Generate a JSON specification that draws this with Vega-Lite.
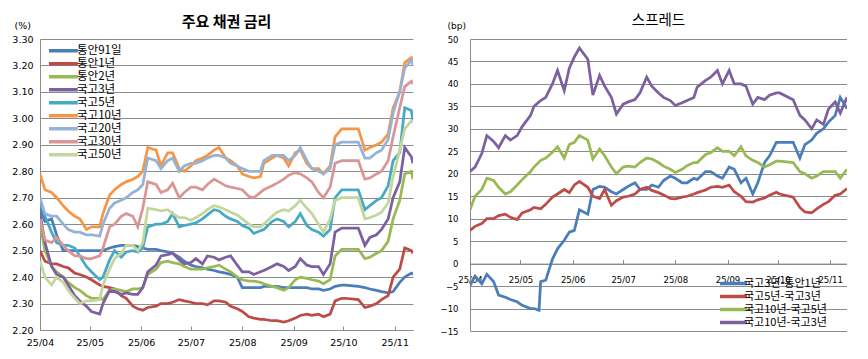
{
"$schema":"https://vega.github.io/schema/vega-lite/v6.json",
"background":"white",
"padding":{"left":11,"top":13,"right":0,"bottom":0},
"config":{
"view":{"stroke":null},
"font":"Noto Sans CJK KR",
"axis":{"labelFont":"DejaVu Sans","labelColor":"#000000","titleFont":"DejaVu Sans","titleColor":"#000000","gridColor":"#8c8c8c","gridWidth":1,"domainColor":"#8c8c8c","tickColor":"#8c8c8c","labelFlush":false,"labelOverlap":false},
"legend":{"labelFont":"Noto Sans CJK KR","labelColor":"#000000"},
"title":{"color":"#000000","font":"Noto Sans CJK KR"}
},
"resolve":{"scale":{"color":"independent"},"legend":{"color":"independent"}},
"datasets":{
"rates":[
{"d":"2025-04-01","s":"통안91일","v":2.66},{"d":"2025-04-04","s":"통안91일","v":2.61},{"d":"2025-04-08","s":"통안91일","v":2.62},{"d":"2025-04-11","s":"통안91일","v":2.56},{"d":"2025-04-15","s":"통안91일","v":2.50},{"d":"2025-04-18","s":"통안91일","v":2.50},{"d":"2025-04-22","s":"통안91일","v":2.50},{"d":"2025-04-25","s":"통안91일","v":2.50},{"d":"2025-04-29","s":"통안91일","v":2.50},{"d":"2025-05-02","s":"통안91일","v":2.50},{"d":"2025-05-07","s":"통안91일","v":2.50},{"d":"2025-05-09","s":"통안91일","v":2.50},{"d":"2025-05-13","s":"통안91일","v":2.51},{"d":"2025-05-16","s":"통안91일","v":2.515},{"d":"2025-05-20","s":"통안91일","v":2.52},{"d":"2025-05-23","s":"통안91일","v":2.52},{"d":"2025-05-27","s":"통안91일","v":2.52},{"d":"2025-05-30","s":"통안91일","v":2.515},{"d":"2025-06-02","s":"통안91일","v":2.51},{"d":"2025-06-05","s":"통안91일","v":2.505},{"d":"2025-06-10","s":"통안91일","v":2.505},{"d":"2025-06-13","s":"통안91일","v":2.50},{"d":"2025-06-17","s":"통안91일","v":2.495},{"d":"2025-06-20","s":"통안91일","v":2.49},{"d":"2025-06-24","s":"통안91일","v":2.475},{"d":"2025-06-27","s":"통안91일","v":2.46},{"d":"2025-07-01","s":"통안91일","v":2.445},{"d":"2025-07-04","s":"통안91일","v":2.44},{"d":"2025-07-08","s":"통안91일","v":2.435},{"d":"2025-07-11","s":"통안91일","v":2.43},{"d":"2025-07-15","s":"통안91일","v":2.425},{"d":"2025-07-18","s":"통안91일","v":2.42},{"d":"2025-07-22","s":"통안91일","v":2.415},{"d":"2025-07-25","s":"통안91일","v":2.41},{"d":"2025-07-29","s":"통안91일","v":2.40},{"d":"2025-08-01","s":"통안91일","v":2.36},{"d":"2025-08-05","s":"통안91일","v":2.36},{"d":"2025-08-08","s":"통안91일","v":2.36},{"d":"2025-08-12","s":"통안91일","v":2.36},{"d":"2025-08-14","s":"통안91일","v":2.365},{"d":"2025-08-19","s":"통안91일","v":2.365},{"d":"2025-08-22","s":"통안91일","v":2.365},{"d":"2025-08-26","s":"통안91일","v":2.36},{"d":"2025-08-29","s":"통안91일","v":2.36},{"d":"2025-09-02","s":"통안91일","v":2.36},{"d":"2025-09-05","s":"통안91일","v":2.36},{"d":"2025-09-09","s":"통안91일","v":2.36},{"d":"2025-09-12","s":"통안91일","v":2.355},{"d":"2025-09-16","s":"통안91일","v":2.355},{"d":"2025-09-19","s":"통안91일","v":2.35},{"d":"2025-09-23","s":"통안91일","v":2.355},{"d":"2025-09-26","s":"통안91일","v":2.365},{"d":"2025-09-30","s":"통안91일","v":2.37},{"d":"2025-10-02","s":"통안91일","v":2.37},{"d":"2025-10-10","s":"통안91일","v":2.365},{"d":"2025-10-14","s":"통안91일","v":2.36},{"d":"2025-10-17","s":"통안91일","v":2.355},{"d":"2025-10-21","s":"통안91일","v":2.35},{"d":"2025-10-24","s":"통안91일","v":2.345},{"d":"2025-10-28","s":"통안91일","v":2.34},{"d":"2025-10-31","s":"통안91일","v":2.345},{"d":"2025-11-04","s":"통안91일","v":2.38},{"d":"2025-11-07","s":"통안91일","v":2.40},{"d":"2025-11-11","s":"통안91일","v":2.415},{"d":"2025-11-12","s":"통안91일","v":2.41},
{"d":"2025-04-01","s":"통안1년","v":2.50},{"d":"2025-04-04","s":"통안1년","v":2.46},{"d":"2025-04-08","s":"통안1년","v":2.45},{"d":"2025-04-11","s":"통안1년","v":2.45},{"d":"2025-04-15","s":"통안1년","v":2.44},{"d":"2025-04-18","s":"통안1년","v":2.435},{"d":"2025-04-22","s":"통안1년","v":2.415},{"d":"2025-04-25","s":"통안1년","v":2.41},{"d":"2025-04-29","s":"통안1년","v":2.40},{"d":"2025-05-02","s":"통안1년","v":2.39},{"d":"2025-05-07","s":"통안1년","v":2.37},{"d":"2025-05-09","s":"통안1년","v":2.365},{"d":"2025-05-13","s":"통안1년","v":2.36},{"d":"2025-05-16","s":"통안1년","v":2.355},{"d":"2025-05-20","s":"통안1년","v":2.33},{"d":"2025-05-23","s":"통안1년","v":2.32},{"d":"2025-05-27","s":"통안1년","v":2.29},{"d":"2025-05-30","s":"통안1년","v":2.28},{"d":"2025-06-02","s":"통안1년","v":2.275},{"d":"2025-06-05","s":"통안1년","v":2.285},{"d":"2025-06-10","s":"통안1년","v":2.29},{"d":"2025-06-13","s":"통안1년","v":2.30},{"d":"2025-06-17","s":"통안1년","v":2.30},{"d":"2025-06-20","s":"통안1년","v":2.305},{"d":"2025-06-24","s":"통안1년","v":2.315},{"d":"2025-06-27","s":"통안1년","v":2.31},{"d":"2025-07-01","s":"통안1년","v":2.305},{"d":"2025-07-04","s":"통안1년","v":2.30},{"d":"2025-07-08","s":"통안1년","v":2.30},{"d":"2025-07-11","s":"통안1년","v":2.295},{"d":"2025-07-15","s":"통안1년","v":2.31},{"d":"2025-07-18","s":"통안1년","v":2.31},{"d":"2025-07-22","s":"통안1년","v":2.305},{"d":"2025-07-25","s":"통안1년","v":2.29},{"d":"2025-07-29","s":"통안1년","v":2.28},{"d":"2025-08-01","s":"통안1년","v":2.27},{"d":"2025-08-05","s":"통안1년","v":2.25},{"d":"2025-08-08","s":"통안1년","v":2.245},{"d":"2025-08-12","s":"통안1년","v":2.24},{"d":"2025-08-14","s":"통안1년","v":2.24},{"d":"2025-08-19","s":"통안1년","v":2.235},{"d":"2025-08-22","s":"통안1년","v":2.235},{"d":"2025-08-26","s":"통안1년","v":2.23},{"d":"2025-08-29","s":"통안1년","v":2.235},{"d":"2025-09-02","s":"통안1년","v":2.245},{"d":"2025-09-05","s":"통안1년","v":2.255},{"d":"2025-09-09","s":"통안1년","v":2.26},{"d":"2025-09-12","s":"통안1년","v":2.255},{"d":"2025-09-16","s":"통안1년","v":2.26},{"d":"2025-09-19","s":"통안1년","v":2.25},{"d":"2025-09-23","s":"통안1년","v":2.26},{"d":"2025-09-26","s":"통안1년","v":2.31},{"d":"2025-09-30","s":"통안1년","v":2.32},{"d":"2025-10-02","s":"통안1년","v":2.32},{"d":"2025-10-10","s":"통안1년","v":2.315},{"d":"2025-10-14","s":"통안1년","v":2.285},{"d":"2025-10-17","s":"통안1년","v":2.29},{"d":"2025-10-21","s":"통안1년","v":2.30},{"d":"2025-10-24","s":"통안1년","v":2.315},{"d":"2025-10-28","s":"통안1년","v":2.33},{"d":"2025-10-31","s":"통안1년","v":2.40},{"d":"2025-11-04","s":"통안1년","v":2.43},{"d":"2025-11-07","s":"통안1년","v":2.51},{"d":"2025-11-11","s":"통안1년","v":2.50},{"d":"2025-11-12","s":"통안1년","v":2.49},
{"d":"2025-04-01","s":"통안2년","v":2.60},{"d":"2025-04-04","s":"통안2년","v":2.50},{"d":"2025-04-08","s":"통안2년","v":2.44},{"d":"2025-04-11","s":"통안2년","v":2.42},{"d":"2025-04-15","s":"통안2년","v":2.40},{"d":"2025-04-18","s":"통안2년","v":2.38},{"d":"2025-04-22","s":"통안2년","v":2.36},{"d":"2025-04-25","s":"통안2년","v":2.35},{"d":"2025-04-29","s":"통안2년","v":2.33},{"d":"2025-05-02","s":"통안2년","v":2.32},{"d":"2025-05-07","s":"통안2년","v":2.32},{"d":"2025-05-09","s":"통안2년","v":2.315},{"d":"2025-05-13","s":"통안2년","v":2.35},{"d":"2025-05-16","s":"통안2년","v":2.355},{"d":"2025-05-20","s":"통안2년","v":2.35},{"d":"2025-05-23","s":"통안2년","v":2.345},{"d":"2025-05-27","s":"통안2년","v":2.355},{"d":"2025-05-30","s":"통안2년","v":2.355},{"d":"2025-06-02","s":"통안2년","v":2.36},{"d":"2025-06-05","s":"통안2년","v":2.41},{"d":"2025-06-10","s":"통안2년","v":2.43},{"d":"2025-06-13","s":"통안2년","v":2.455},{"d":"2025-06-17","s":"통안2년","v":2.46},{"d":"2025-06-20","s":"통안2년","v":2.455},{"d":"2025-06-24","s":"통안2년","v":2.45},{"d":"2025-06-27","s":"통안2년","v":2.44},{"d":"2025-07-01","s":"통안2년","v":2.43},{"d":"2025-07-04","s":"통안2년","v":2.43},{"d":"2025-07-08","s":"통안2년","v":2.43},{"d":"2025-07-11","s":"통안2년","v":2.435},{"d":"2025-07-15","s":"통안2년","v":2.44},{"d":"2025-07-18","s":"통안2년","v":2.445},{"d":"2025-07-22","s":"통안2년","v":2.43},{"d":"2025-07-25","s":"통안2년","v":2.42},{"d":"2025-07-29","s":"통안2년","v":2.40},{"d":"2025-08-01","s":"통안2년","v":2.39},{"d":"2025-08-05","s":"통안2년","v":2.385},{"d":"2025-08-08","s":"통안2년","v":2.385},{"d":"2025-08-12","s":"통안2년","v":2.38},{"d":"2025-08-14","s":"통안2년","v":2.375},{"d":"2025-08-19","s":"통안2년","v":2.365},{"d":"2025-08-22","s":"통안2년","v":2.36},{"d":"2025-08-26","s":"통안2년","v":2.35},{"d":"2025-08-29","s":"통안2년","v":2.36},{"d":"2025-09-02","s":"통안2년","v":2.39},{"d":"2025-09-05","s":"통안2년","v":2.40},{"d":"2025-09-09","s":"통안2년","v":2.395},{"d":"2025-09-12","s":"통안2년","v":2.39},{"d":"2025-09-16","s":"통안2년","v":2.385},{"d":"2025-09-19","s":"통안2년","v":2.375},{"d":"2025-09-23","s":"통안2년","v":2.39},{"d":"2025-09-26","s":"통안2년","v":2.48},{"d":"2025-09-30","s":"통안2년","v":2.505},{"d":"2025-10-02","s":"통안2년","v":2.505},{"d":"2025-10-10","s":"통안2년","v":2.505},{"d":"2025-10-14","s":"통안2년","v":2.47},{"d":"2025-10-17","s":"통안2년","v":2.475},{"d":"2025-10-21","s":"통안2년","v":2.49},{"d":"2025-10-24","s":"통안2년","v":2.50},{"d":"2025-10-28","s":"통안2년","v":2.535},{"d":"2025-10-31","s":"통안2년","v":2.62},{"d":"2025-11-04","s":"통안2년","v":2.69},{"d":"2025-11-07","s":"통안2년","v":2.79},{"d":"2025-11-11","s":"통안2년","v":2.80},{"d":"2025-11-12","s":"통안2년","v":2.77},
{"d":"2025-04-01","s":"국고3년","v":2.64},{"d":"2025-04-04","s":"국고3년","v":2.53},{"d":"2025-04-08","s":"국고3년","v":2.44},{"d":"2025-04-11","s":"국고3년","v":2.41},{"d":"2025-04-15","s":"국고3년","v":2.40},{"d":"2025-04-18","s":"국고3년","v":2.37},{"d":"2025-04-22","s":"국고3년","v":2.33},{"d":"2025-04-25","s":"국고3년","v":2.31},{"d":"2025-04-29","s":"국고3년","v":2.29},{"d":"2025-05-02","s":"국고3년","v":2.27},{"d":"2025-05-07","s":"국고3년","v":2.26},{"d":"2025-05-09","s":"국고3년","v":2.30},{"d":"2025-05-13","s":"국고3년","v":2.35},{"d":"2025-05-16","s":"국고3년","v":2.345},{"d":"2025-05-20","s":"국고3년","v":2.335},{"d":"2025-05-23","s":"국고3년","v":2.34},{"d":"2025-05-27","s":"국고3년","v":2.335},{"d":"2025-05-30","s":"국고3년","v":2.335},{"d":"2025-06-02","s":"국고3년","v":2.36},{"d":"2025-06-05","s":"국고3년","v":2.42},{"d":"2025-06-10","s":"국고3년","v":2.445},{"d":"2025-06-13","s":"국고3년","v":2.48},{"d":"2025-06-17","s":"국고3년","v":2.485},{"d":"2025-06-20","s":"국고3년","v":2.49},{"d":"2025-06-24","s":"국고3년","v":2.465},{"d":"2025-06-27","s":"국고3년","v":2.45},{"d":"2025-07-01","s":"국고3년","v":2.455},{"d":"2025-07-04","s":"국고3년","v":2.47},{"d":"2025-07-08","s":"국고3년","v":2.45},{"d":"2025-07-11","s":"국고3년","v":2.48},{"d":"2025-07-15","s":"국고3년","v":2.475},{"d":"2025-07-18","s":"국고3년","v":2.465},{"d":"2025-07-22","s":"국고3년","v":2.475},{"d":"2025-07-25","s":"국고3년","v":2.48},{"d":"2025-07-29","s":"국고3년","v":2.445},{"d":"2025-08-01","s":"국고3년","v":2.42},{"d":"2025-08-05","s":"국고3년","v":2.42},{"d":"2025-08-08","s":"국고3년","v":2.41},{"d":"2025-08-12","s":"국고3년","v":2.42},{"d":"2025-08-14","s":"국고3년","v":2.425},{"d":"2025-08-19","s":"국고3년","v":2.44},{"d":"2025-08-22","s":"국고3년","v":2.45},{"d":"2025-08-26","s":"국고3년","v":2.44},{"d":"2025-08-29","s":"국고3년","v":2.425},{"d":"2025-09-02","s":"국고3년","v":2.44},{"d":"2025-09-05","s":"국고3년","v":2.47},{"d":"2025-09-09","s":"국고3년","v":2.445},{"d":"2025-09-12","s":"국고3년","v":2.44},{"d":"2025-09-16","s":"국고3년","v":2.44},{"d":"2025-09-19","s":"국고3년","v":2.41},{"d":"2025-09-23","s":"국고3년","v":2.45},{"d":"2025-09-26","s":"국고3년","v":2.57},{"d":"2025-09-30","s":"국고3년","v":2.585},{"d":"2025-10-02","s":"국고3년","v":2.585},{"d":"2025-10-10","s":"국고3년","v":2.585},{"d":"2025-10-14","s":"국고3년","v":2.52},{"d":"2025-10-17","s":"국고3년","v":2.55},{"d":"2025-10-21","s":"국고3년","v":2.56},{"d":"2025-10-24","s":"국고3년","v":2.58},{"d":"2025-10-28","s":"국고3년","v":2.62},{"d":"2025-10-31","s":"국고3년","v":2.70},{"d":"2025-11-04","s":"국고3년","v":2.76},{"d":"2025-11-07","s":"국고3년","v":2.89},{"d":"2025-11-11","s":"국고3년","v":2.855},{"d":"2025-11-12","s":"국고3년","v":2.83},
{"d":"2025-04-01","s":"국고5년","v":2.69},{"d":"2025-04-04","s":"국고5년","v":2.63},{"d":"2025-04-08","s":"국고5년","v":2.57},{"d":"2025-04-11","s":"국고5년","v":2.53},{"d":"2025-04-15","s":"국고5년","v":2.52},{"d":"2025-04-18","s":"국고5년","v":2.52},{"d":"2025-04-22","s":"국고5년","v":2.51},{"d":"2025-04-25","s":"국고5년","v":2.48},{"d":"2025-04-29","s":"국고5년","v":2.44},{"d":"2025-05-02","s":"국고5년","v":2.42},{"d":"2025-05-07","s":"국고5년","v":2.39},{"d":"2025-05-09","s":"국고5년","v":2.40},{"d":"2025-05-13","s":"국고5년","v":2.465},{"d":"2025-05-16","s":"국고5년","v":2.50},{"d":"2025-05-20","s":"국고5년","v":2.475},{"d":"2025-05-23","s":"국고5년","v":2.495},{"d":"2025-05-27","s":"국고5년","v":2.50},{"d":"2025-05-30","s":"국고5년","v":2.495},{"d":"2025-06-02","s":"국고5년","v":2.51},{"d":"2025-06-05","s":"국고5년","v":2.59},{"d":"2025-06-10","s":"국고5년","v":2.60},{"d":"2025-06-13","s":"국고5년","v":2.60},{"d":"2025-06-17","s":"국고5년","v":2.61},{"d":"2025-06-20","s":"국고5년","v":2.64},{"d":"2025-06-24","s":"국고5년","v":2.59},{"d":"2025-06-27","s":"국고5년","v":2.595},{"d":"2025-07-01","s":"국고5년","v":2.60},{"d":"2025-07-04","s":"국고5년","v":2.605},{"d":"2025-07-08","s":"국고5년","v":2.62},{"d":"2025-07-11","s":"국고5년","v":2.635},{"d":"2025-07-15","s":"국고5년","v":2.655},{"d":"2025-07-18","s":"국고5년","v":2.65},{"d":"2025-07-22","s":"국고5년","v":2.63},{"d":"2025-07-25","s":"국고5년","v":2.62},{"d":"2025-07-29","s":"국고5년","v":2.61},{"d":"2025-08-01","s":"국고5년","v":2.595},{"d":"2025-08-05","s":"국고5년","v":2.585},{"d":"2025-08-08","s":"국고5년","v":2.565},{"d":"2025-08-12","s":"국고5년","v":2.575},{"d":"2025-08-14","s":"국고5년","v":2.58},{"d":"2025-08-19","s":"국고5년","v":2.61},{"d":"2025-08-22","s":"국고5년","v":2.62},{"d":"2025-08-26","s":"국고5년","v":2.61},{"d":"2025-08-29","s":"국고5년","v":2.59},{"d":"2025-09-02","s":"국고5년","v":2.61},{"d":"2025-09-05","s":"국고5년","v":2.64},{"d":"2025-09-09","s":"국고5년","v":2.595},{"d":"2025-09-12","s":"국고5년","v":2.58},{"d":"2025-09-16","s":"국고5년","v":2.57},{"d":"2025-09-19","s":"국고5년","v":2.555},{"d":"2025-09-23","s":"국고5년","v":2.58},{"d":"2025-09-26","s":"국고5년","v":2.70},{"d":"2025-09-30","s":"국고5년","v":2.73},{"d":"2025-10-02","s":"국고5년","v":2.73},{"d":"2025-10-10","s":"국고5년","v":2.73},{"d":"2025-10-14","s":"국고5년","v":2.655},{"d":"2025-10-17","s":"국고5년","v":2.67},{"d":"2025-10-21","s":"국고5년","v":2.69},{"d":"2025-10-24","s":"국고5년","v":2.70},{"d":"2025-10-28","s":"국고5년","v":2.745},{"d":"2025-10-31","s":"국고5년","v":2.84},{"d":"2025-11-04","s":"국고5년","v":2.87},{"d":"2025-11-07","s":"국고5년","v":3.04},{"d":"2025-11-11","s":"국고5년","v":3.03},{"d":"2025-11-12","s":"국고5년","v":2.99},
{"d":"2025-04-01","s":"국고10년","v":2.79},{"d":"2025-04-04","s":"국고10년","v":2.73},{"d":"2025-04-08","s":"국고10년","v":2.72},{"d":"2025-04-11","s":"국고10년","v":2.70},{"d":"2025-04-15","s":"국고10년","v":2.67},{"d":"2025-04-18","s":"국고10년","v":2.65},{"d":"2025-04-22","s":"국고10년","v":2.63},{"d":"2025-04-25","s":"국고10년","v":2.62},{"d":"2025-04-29","s":"국고10년","v":2.58},{"d":"2025-05-02","s":"국고10년","v":2.59},{"d":"2025-05-07","s":"국고10년","v":2.59},{"d":"2025-05-09","s":"국고10년","v":2.64},{"d":"2025-05-13","s":"국고10년","v":2.71},{"d":"2025-05-16","s":"국고10년","v":2.73},{"d":"2025-05-20","s":"국고10년","v":2.75},{"d":"2025-05-23","s":"국고10년","v":2.76},{"d":"2025-05-27","s":"국고10년","v":2.77},{"d":"2025-05-30","s":"국고10년","v":2.78},{"d":"2025-06-02","s":"국고10년","v":2.80},{"d":"2025-06-05","s":"국고10년","v":2.89},{"d":"2025-06-10","s":"국고10년","v":2.88},{"d":"2025-06-13","s":"국고10년","v":2.82},{"d":"2025-06-17","s":"국고10년","v":2.87},{"d":"2025-06-20","s":"국고10년","v":2.87},{"d":"2025-06-24","s":"국고10년","v":2.81},{"d":"2025-06-27","s":"국고10년","v":2.80},{"d":"2025-07-01","s":"국고10년","v":2.82},{"d":"2025-07-04","s":"국고10년","v":2.84},{"d":"2025-07-08","s":"국고10년","v":2.85},{"d":"2025-07-11","s":"국고10년","v":2.86},{"d":"2025-07-15","s":"국고10년","v":2.88},{"d":"2025-07-18","s":"국고10년","v":2.89},{"d":"2025-07-22","s":"국고10년","v":2.85},{"d":"2025-07-25","s":"국고10년","v":2.84},{"d":"2025-07-29","s":"국고10년","v":2.82},{"d":"2025-08-01","s":"국고10년","v":2.79},{"d":"2025-08-05","s":"국고10년","v":2.78},{"d":"2025-08-08","s":"국고10년","v":2.775},{"d":"2025-08-12","s":"국고10년","v":2.78},{"d":"2025-08-14","s":"국고10년","v":2.83},{"d":"2025-08-19","s":"국고10년","v":2.85},{"d":"2025-08-22","s":"국고10년","v":2.86},{"d":"2025-08-26","s":"국고10년","v":2.85},{"d":"2025-08-29","s":"국고10년","v":2.82},{"d":"2025-09-02","s":"국고10년","v":2.87},{"d":"2025-09-05","s":"국고10년","v":2.88},{"d":"2025-09-09","s":"국고10년","v":2.83},{"d":"2025-09-12","s":"국고10년","v":2.81},{"d":"2025-09-16","s":"국고10년","v":2.81},{"d":"2025-09-19","s":"국고10년","v":2.79},{"d":"2025-09-23","s":"국고10년","v":2.82},{"d":"2025-09-26","s":"국고10년","v":2.93},{"d":"2025-09-30","s":"국고10년","v":2.96},{"d":"2025-10-02","s":"국고10년","v":2.96},{"d":"2025-10-10","s":"국고10년","v":2.96},{"d":"2025-10-14","s":"국고10년","v":2.88},{"d":"2025-10-17","s":"국고10년","v":2.89},{"d":"2025-10-21","s":"국고10년","v":2.90},{"d":"2025-10-24","s":"국고10년","v":2.91},{"d":"2025-10-28","s":"국고10년","v":2.94},{"d":"2025-10-31","s":"국고10년","v":3.04},{"d":"2025-11-04","s":"국고10년","v":3.10},{"d":"2025-11-07","s":"국고10년","v":3.21},{"d":"2025-11-11","s":"국고10년","v":3.23},{"d":"2025-11-12","s":"국고10년","v":3.22},
{"d":"2025-04-01","s":"국고20년","v":2.70},{"d":"2025-04-04","s":"국고20년","v":2.64},{"d":"2025-04-08","s":"국고20년","v":2.63},{"d":"2025-04-11","s":"국고20년","v":2.63},{"d":"2025-04-15","s":"국고20년","v":2.60},{"d":"2025-04-18","s":"국고20년","v":2.58},{"d":"2025-04-22","s":"국고20년","v":2.57},{"d":"2025-04-25","s":"국고20년","v":2.57},{"d":"2025-04-29","s":"국고20년","v":2.56},{"d":"2025-05-02","s":"국고20년","v":2.56},{"d":"2025-05-07","s":"국고20년","v":2.555},{"d":"2025-05-09","s":"국고20년","v":2.60},{"d":"2025-05-13","s":"국고20년","v":2.66},{"d":"2025-05-16","s":"국고20년","v":2.68},{"d":"2025-05-20","s":"국고20년","v":2.69},{"d":"2025-05-23","s":"국고20년","v":2.70},{"d":"2025-05-27","s":"국고20년","v":2.72},{"d":"2025-05-30","s":"국고20년","v":2.73},{"d":"2025-06-02","s":"국고20년","v":2.75},{"d":"2025-06-05","s":"국고20년","v":2.85},{"d":"2025-06-10","s":"국고20년","v":2.84},{"d":"2025-06-13","s":"국고20년","v":2.81},{"d":"2025-06-17","s":"국고20년","v":2.84},{"d":"2025-06-20","s":"국고20년","v":2.85},{"d":"2025-06-24","s":"국고20년","v":2.80},{"d":"2025-06-27","s":"국고20년","v":2.82},{"d":"2025-07-01","s":"국고20년","v":2.83},{"d":"2025-07-04","s":"국고20년","v":2.83},{"d":"2025-07-08","s":"국고20년","v":2.84},{"d":"2025-07-11","s":"국고20년","v":2.85},{"d":"2025-07-15","s":"국고20년","v":2.86},{"d":"2025-07-18","s":"국고20년","v":2.86},{"d":"2025-07-22","s":"국고20년","v":2.85},{"d":"2025-07-25","s":"국고20년","v":2.83},{"d":"2025-07-29","s":"국고20년","v":2.82},{"d":"2025-08-01","s":"국고20년","v":2.81},{"d":"2025-08-05","s":"국고20년","v":2.80},{"d":"2025-08-08","s":"국고20년","v":2.80},{"d":"2025-08-12","s":"국고20년","v":2.80},{"d":"2025-08-14","s":"국고20년","v":2.84},{"d":"2025-08-19","s":"국고20년","v":2.86},{"d":"2025-08-22","s":"국고20년","v":2.86},{"d":"2025-08-26","s":"국고20년","v":2.86},{"d":"2025-08-29","s":"국고20년","v":2.84},{"d":"2025-09-02","s":"국고20년","v":2.86},{"d":"2025-09-05","s":"국고20년","v":2.89},{"d":"2025-09-09","s":"국고20년","v":2.84},{"d":"2025-09-12","s":"국고20년","v":2.81},{"d":"2025-09-16","s":"국고20년","v":2.80},{"d":"2025-09-19","s":"국고20년","v":2.79},{"d":"2025-09-23","s":"국고20년","v":2.81},{"d":"2025-09-26","s":"국고20년","v":2.90},{"d":"2025-09-30","s":"국고20년","v":2.91},{"d":"2025-10-02","s":"국고20년","v":2.91},{"d":"2025-10-10","s":"국고20년","v":2.91},{"d":"2025-10-14","s":"국고20년","v":2.85},{"d":"2025-10-17","s":"국고20년","v":2.85},{"d":"2025-10-21","s":"국고20년","v":2.87},{"d":"2025-10-24","s":"국고20년","v":2.88},{"d":"2025-10-28","s":"국고20년","v":2.92},{"d":"2025-10-31","s":"국고20년","v":3.02},{"d":"2025-11-04","s":"국고20년","v":3.10},{"d":"2025-11-07","s":"국고20년","v":3.19},{"d":"2025-11-11","s":"국고20년","v":3.22},{"d":"2025-11-12","s":"국고20년","v":3.20},
{"d":"2025-04-01","s":"국고30년","v":2.62},{"d":"2025-04-04","s":"국고30년","v":2.54},{"d":"2025-04-08","s":"국고30년","v":2.53},{"d":"2025-04-11","s":"국고30년","v":2.55},{"d":"2025-04-15","s":"국고30년","v":2.52},{"d":"2025-04-18","s":"국고30년","v":2.50},{"d":"2025-04-22","s":"국고30년","v":2.48},{"d":"2025-04-25","s":"국고30년","v":2.48},{"d":"2025-04-29","s":"국고30년","v":2.47},{"d":"2025-05-02","s":"국고30년","v":2.47},{"d":"2025-05-07","s":"국고30년","v":2.48},{"d":"2025-05-09","s":"국고30년","v":2.51},{"d":"2025-05-13","s":"국고30년","v":2.59},{"d":"2025-05-16","s":"국고30년","v":2.60},{"d":"2025-05-20","s":"국고30년","v":2.63},{"d":"2025-05-23","s":"국고30년","v":2.64},{"d":"2025-05-27","s":"국고30년","v":2.63},{"d":"2025-05-30","s":"국고30년","v":2.59},{"d":"2025-06-02","s":"국고30년","v":2.66},{"d":"2025-06-05","s":"국고30년","v":2.76},{"d":"2025-06-10","s":"국고30년","v":2.75},{"d":"2025-06-13","s":"국고30년","v":2.72},{"d":"2025-06-17","s":"국고30년","v":2.73},{"d":"2025-06-20","s":"국고30년","v":2.755},{"d":"2025-06-24","s":"국고30년","v":2.70},{"d":"2025-06-27","s":"국고30년","v":2.72},{"d":"2025-07-01","s":"국고30년","v":2.74},{"d":"2025-07-04","s":"국고30년","v":2.74},{"d":"2025-07-08","s":"국고30년","v":2.73},{"d":"2025-07-11","s":"국고30년","v":2.75},{"d":"2025-07-15","s":"국고30년","v":2.77},{"d":"2025-07-18","s":"국고30년","v":2.76},{"d":"2025-07-22","s":"국고30년","v":2.745},{"d":"2025-07-25","s":"국고30년","v":2.74},{"d":"2025-07-29","s":"국고30년","v":2.735},{"d":"2025-08-01","s":"국고30년","v":2.73},{"d":"2025-08-05","s":"국고30년","v":2.705},{"d":"2025-08-08","s":"국고30년","v":2.70},{"d":"2025-08-12","s":"국고30년","v":2.72},{"d":"2025-08-14","s":"국고30년","v":2.73},{"d":"2025-08-19","s":"국고30년","v":2.745},{"d":"2025-08-22","s":"국고30년","v":2.755},{"d":"2025-08-26","s":"국고30년","v":2.77},{"d":"2025-08-29","s":"국고30년","v":2.785},{"d":"2025-09-02","s":"국고30년","v":2.795},{"d":"2025-09-05","s":"국고30년","v":2.79},{"d":"2025-09-09","s":"국고30년","v":2.775},{"d":"2025-09-12","s":"국고30년","v":2.76},{"d":"2025-09-16","s":"국고30년","v":2.72},{"d":"2025-09-19","s":"국고30년","v":2.70},{"d":"2025-09-23","s":"국고30년","v":2.74},{"d":"2025-09-26","s":"국고30년","v":2.83},{"d":"2025-09-30","s":"국고30년","v":2.84},{"d":"2025-10-02","s":"국고30년","v":2.84},{"d":"2025-10-10","s":"국고30년","v":2.84},{"d":"2025-10-14","s":"국고30년","v":2.77},{"d":"2025-10-17","s":"국고30년","v":2.775},{"d":"2025-10-21","s":"국고30년","v":2.79},{"d":"2025-10-24","s":"국고30년","v":2.80},{"d":"2025-10-28","s":"국고30년","v":2.84},{"d":"2025-10-31","s":"국고30년","v":2.93},{"d":"2025-11-04","s":"국고30년","v":3.04},{"d":"2025-11-07","s":"국고30년","v":3.12},{"d":"2025-11-11","s":"국고30년","v":3.14},{"d":"2025-11-12","s":"국고30년","v":3.13},
{"d":"2025-04-01","s":"국고50년","v":2.46},{"d":"2025-04-04","s":"국고50년","v":2.40},{"d":"2025-04-08","s":"국고50년","v":2.37},{"d":"2025-04-11","s":"국고50년","v":2.40},{"d":"2025-04-15","s":"국고50년","v":2.38},{"d":"2025-04-18","s":"국고50년","v":2.35},{"d":"2025-04-22","s":"국고50년","v":2.32},{"d":"2025-04-25","s":"국고50년","v":2.30},{"d":"2025-04-29","s":"국고50년","v":2.31},{"d":"2025-05-02","s":"국고50년","v":2.31},{"d":"2025-05-07","s":"국고50년","v":2.315},{"d":"2025-05-09","s":"국고50년","v":2.37},{"d":"2025-05-13","s":"국고50년","v":2.43},{"d":"2025-05-16","s":"국고50년","v":2.47},{"d":"2025-05-20","s":"국고50년","v":2.49},{"d":"2025-05-23","s":"국고50년","v":2.52},{"d":"2025-05-27","s":"국고50년","v":2.52},{"d":"2025-05-30","s":"국고50년","v":2.50},{"d":"2025-06-02","s":"국고50년","v":2.53},{"d":"2025-06-05","s":"국고50년","v":2.66},{"d":"2025-06-10","s":"국고50년","v":2.655},{"d":"2025-06-13","s":"국고50년","v":2.65},{"d":"2025-06-17","s":"국고50년","v":2.655},{"d":"2025-06-20","s":"국고50년","v":2.64},{"d":"2025-06-24","s":"국고50년","v":2.625},{"d":"2025-06-27","s":"국고50년","v":2.625},{"d":"2025-07-01","s":"국고50년","v":2.615},{"d":"2025-07-04","s":"국고50년","v":2.625},{"d":"2025-07-08","s":"국고50년","v":2.64},{"d":"2025-07-11","s":"국고50년","v":2.655},{"d":"2025-07-15","s":"국고50년","v":2.67},{"d":"2025-07-18","s":"국고50년","v":2.665},{"d":"2025-07-22","s":"국고50년","v":2.655},{"d":"2025-07-25","s":"국고50년","v":2.645},{"d":"2025-07-29","s":"국고50년","v":2.635},{"d":"2025-08-01","s":"국고50년","v":2.62},{"d":"2025-08-05","s":"국고50년","v":2.60},{"d":"2025-08-08","s":"국고50년","v":2.59},{"d":"2025-08-12","s":"국고50년","v":2.59},{"d":"2025-08-14","s":"국고50년","v":2.60},{"d":"2025-08-19","s":"국고50년","v":2.63},{"d":"2025-08-22","s":"국고50년","v":2.645},{"d":"2025-08-26","s":"국고50년","v":2.655},{"d":"2025-08-29","s":"국고50년","v":2.65},{"d":"2025-09-02","s":"국고50년","v":2.67},{"d":"2025-09-05","s":"국고50년","v":2.69},{"d":"2025-09-09","s":"국고50년","v":2.66},{"d":"2025-09-12","s":"국고50년","v":2.64},{"d":"2025-09-16","s":"국고50년","v":2.60},{"d":"2025-09-19","s":"국고50년","v":2.57},{"d":"2025-09-23","s":"국고50년","v":2.62},{"d":"2025-09-26","s":"국고50년","v":2.69},{"d":"2025-09-30","s":"국고50년","v":2.70},{"d":"2025-10-02","s":"국고50년","v":2.70},{"d":"2025-10-10","s":"국고50년","v":2.70},{"d":"2025-10-14","s":"국고50년","v":2.62},{"d":"2025-10-17","s":"국고50년","v":2.625},{"d":"2025-10-21","s":"국고50년","v":2.635},{"d":"2025-10-24","s":"국고50년","v":2.645},{"d":"2025-10-28","s":"국고50년","v":2.68},{"d":"2025-10-31","s":"국고50년","v":2.78},{"d":"2025-11-04","s":"국고50년","v":2.88},{"d":"2025-11-07","s":"국고50년","v":2.96},{"d":"2025-11-11","s":"국고50년","v":2.99},{"d":"2025-11-12","s":"국고50년","v":2.985}
],
"spreads":[
{"d":"2025-04-01","s":"국고3년-통안1년","v":-4.9},{"d":"2025-04-04","s":"국고3년-통안1년","v":-2.8},{"d":"2025-04-08","s":"국고3년-통안1년","v":-4.5},{"d":"2025-04-11","s":"국고3년-통안1년","v":-2.4},{"d":"2025-04-15","s":"국고3년-통안1년","v":-4},{"d":"2025-04-18","s":"국고3년-통안1년","v":-7},{"d":"2025-04-22","s":"국고3년-통안1년","v":-7.5},{"d":"2025-04-25","s":"국고3년-통안1년","v":-8},{"d":"2025-04-29","s":"국고3년-통안1년","v":-8.5},{"d":"2025-05-02","s":"국고3년-통안1년","v":-9.3},{"d":"2025-05-07","s":"국고3년-통안1년","v":-10},{"d":"2025-05-09","s":"국고3년-통안1년","v":-10},{"d":"2025-05-12","s":"국고3년-통안1년","v":-10.4},{"d":"2025-05-13","s":"국고3년-통안1년","v":-4},{"d":"2025-05-16","s":"국고3년-통안1년","v":-3.7},{"d":"2025-05-20","s":"국고3년-통안1년","v":1},{"d":"2025-05-23","s":"국고3년-통안1년","v":3.3},{"d":"2025-05-27","s":"국고3년-통안1년","v":5.2},{"d":"2025-05-30","s":"국고3년-통안1년","v":7},{"d":"2025-06-02","s":"국고3년-통안1년","v":7.4},{"d":"2025-06-05","s":"국고3년-통안1년","v":12},{"d":"2025-06-10","s":"국고3년-통안1년","v":11},{"d":"2025-06-13","s":"국고3년-통안1년","v":16.5},{"d":"2025-06-17","s":"국고3년-통안1년","v":17.2},{"d":"2025-06-20","s":"국고3년-통안1년","v":17},{"d":"2025-06-24","s":"국고3년-통안1년","v":16},{"d":"2025-06-27","s":"국고3년-통안1년","v":15.5},{"d":"2025-07-01","s":"국고3년-통안1년","v":16.5},{"d":"2025-07-04","s":"국고3년-통안1년","v":17.2},{"d":"2025-07-08","s":"국고3년-통안1년","v":18},{"d":"2025-07-11","s":"국고3년-통안1년","v":16.5},{"d":"2025-07-15","s":"국고3년-통안1년","v":16.5},{"d":"2025-07-18","s":"국고3년-통안1년","v":17.5},{"d":"2025-07-22","s":"국고3년-통안1년","v":17},{"d":"2025-07-25","s":"국고3년-통안1년","v":18.5},{"d":"2025-07-29","s":"국고3년-통안1년","v":19.5},{"d":"2025-08-01","s":"국고3년-통안1년","v":19},{"d":"2025-08-05","s":"국고3년-통안1년","v":18},{"d":"2025-08-08","s":"국고3년-통안1년","v":18},{"d":"2025-08-12","s":"국고3년-통안1년","v":19},{"d":"2025-08-14","s":"국고3년-통안1년","v":18.7},{"d":"2025-08-19","s":"국고3년-통안1년","v":20.5},{"d":"2025-08-22","s":"국고3년-통안1년","v":20.5},{"d":"2025-08-26","s":"국고3년-통안1년","v":19.5},{"d":"2025-08-29","s":"국고3년-통안1년","v":19},{"d":"2025-09-02","s":"국고3년-통안1년","v":21.5},{"d":"2025-09-05","s":"국고3년-통안1년","v":21},{"d":"2025-09-09","s":"국고3년-통안1년","v":18},{"d":"2025-09-12","s":"국고3년-통안1년","v":19},{"d":"2025-09-16","s":"국고3년-통안1년","v":15.5},{"d":"2025-09-19","s":"국고3년-통안1년","v":18},{"d":"2025-09-23","s":"국고3년-통안1년","v":22.5},{"d":"2025-09-26","s":"국고3년-통안1년","v":24},{"d":"2025-09-30","s":"국고3년-통안1년","v":27},{"d":"2025-10-02","s":"국고3년-통안1년","v":27},{"d":"2025-10-10","s":"국고3년-통안1년","v":27},{"d":"2025-10-14","s":"국고3년-통안1년","v":23.5},{"d":"2025-10-17","s":"국고3년-통안1년","v":26.5},{"d":"2025-10-21","s":"국고3년-통안1년","v":27.5},{"d":"2025-10-24","s":"국고3년-통안1년","v":29},{"d":"2025-10-28","s":"국고3년-통안1년","v":30},{"d":"2025-10-31","s":"국고3년-통안1년","v":31.5},{"d":"2025-11-04","s":"국고3년-통안1년","v":33},{"d":"2025-11-07","s":"국고3년-통안1년","v":37},{"d":"2025-11-11","s":"국고3년-통안1년","v":34.5},
{"d":"2025-04-01","s":"국고5년-국고3년","v":7.4},{"d":"2025-04-04","s":"국고5년-국고3년","v":8.3},{"d":"2025-04-08","s":"국고5년-국고3년","v":8.9},{"d":"2025-04-11","s":"국고5년-국고3년","v":10},{"d":"2025-04-15","s":"국고5년-국고3년","v":10},{"d":"2025-04-18","s":"국고5년-국고3년","v":10.7},{"d":"2025-04-22","s":"국고5년-국고3년","v":11},{"d":"2025-04-25","s":"국고5년-국고3년","v":10.3},{"d":"2025-04-29","s":"국고5년-국고3년","v":9.8},{"d":"2025-05-02","s":"국고5년-국고3년","v":11.3},{"d":"2025-05-07","s":"국고5년-국고3년","v":12},{"d":"2025-05-09","s":"국고5년-국고3년","v":12.5},{"d":"2025-05-13","s":"국고5년-국고3년","v":12.2},{"d":"2025-05-16","s":"국고5년-국고3년","v":13.2},{"d":"2025-05-20","s":"국고5년-국고3년","v":14.8},{"d":"2025-05-23","s":"국고5년-국고3년","v":15.5},{"d":"2025-05-27","s":"국고5년-국고3년","v":16.5},{"d":"2025-05-30","s":"국고5년-국고3년","v":15.8},{"d":"2025-06-02","s":"국고5년-국고3년","v":17.5},{"d":"2025-06-05","s":"국고5년-국고3년","v":18.3},{"d":"2025-06-10","s":"국고5년-국고3년","v":17},{"d":"2025-06-13","s":"국고5년-국고3년","v":15},{"d":"2025-06-17","s":"국고5년-국고3년","v":14.5},{"d":"2025-06-20","s":"국고5년-국고3년","v":16.5},{"d":"2025-06-24","s":"국고5년-국고3년","v":13},{"d":"2025-06-27","s":"국고5년-국고3년","v":14},{"d":"2025-07-01","s":"국고5년-국고3년","v":14.8},{"d":"2025-07-04","s":"국고5년-국고3년","v":15},{"d":"2025-07-08","s":"국고5년-국고3년","v":15.5},{"d":"2025-07-11","s":"국고5년-국고3년","v":16.5},{"d":"2025-07-15","s":"국고5년-국고3년","v":17},{"d":"2025-07-18","s":"국고5년-국고3년","v":16.3},{"d":"2025-07-22","s":"국고5년-국고3년","v":15.8},{"d":"2025-07-25","s":"국고5년-국고3년","v":15.3},{"d":"2025-07-29","s":"국고5년-국고3년","v":14.5},{"d":"2025-08-01","s":"국고5년-국고3년","v":14.4},{"d":"2025-08-05","s":"국고5년-국고3년","v":14.8},{"d":"2025-08-08","s":"국고5년-국고3년","v":15},{"d":"2025-08-12","s":"국고5년-국고3년","v":15.5},{"d":"2025-08-14","s":"국고5년-국고3년","v":15.8},{"d":"2025-08-19","s":"국고5년-국고3년","v":16.4},{"d":"2025-08-22","s":"국고5년-국고3년","v":17},{"d":"2025-08-26","s":"국고5년-국고3년","v":17.2},{"d":"2025-08-29","s":"국고5년-국고3년","v":17},{"d":"2025-09-02","s":"국고5년-국고3년","v":17.5},{"d":"2025-09-05","s":"국고5년-국고3년","v":16},{"d":"2025-09-09","s":"국고5년-국고3년","v":15},{"d":"2025-09-12","s":"국고5년-국고3년","v":13.8},{"d":"2025-09-16","s":"국고5년-국고3년","v":13.7},{"d":"2025-09-19","s":"국고5년-국고3년","v":14.2},{"d":"2025-09-23","s":"국고5년-국고3년","v":14.6},{"d":"2025-09-26","s":"국고5년-국고3년","v":15.2},{"d":"2025-09-30","s":"국고5년-국고3년","v":15.9},{"d":"2025-10-02","s":"국고5년-국고3년","v":15.5},{"d":"2025-10-10","s":"국고5년-국고3년","v":14.8},{"d":"2025-10-14","s":"국고5년-국고3년","v":12.5},{"d":"2025-10-17","s":"국고5년-국고3년","v":11.5},{"d":"2025-10-21","s":"국고5년-국고3년","v":11.3},{"d":"2025-10-24","s":"국고5년-국고3년","v":12.2},{"d":"2025-10-28","s":"국고5년-국고3년","v":13.2},{"d":"2025-10-31","s":"국고5년-국고3년","v":13.8},{"d":"2025-11-04","s":"국고5년-국고3년","v":15.2},{"d":"2025-11-07","s":"국고5년-국고3년","v":15.5},{"d":"2025-11-11","s":"국고5년-국고3년","v":16.7},
{"d":"2025-04-01","s":"국고10년-국고5년","v":12},{"d":"2025-04-04","s":"국고10년-국고5년","v":15},{"d":"2025-04-08","s":"국고10년-국고5년","v":16.5},{"d":"2025-04-11","s":"국고10년-국고5년","v":19},{"d":"2025-04-15","s":"국고10년-국고5년","v":18.5},{"d":"2025-04-18","s":"국고10년-국고5년","v":17},{"d":"2025-04-22","s":"국고10년-국고5년","v":15.5},{"d":"2025-04-25","s":"국고10년-국고5년","v":16},{"d":"2025-04-29","s":"국고10년-국고5년","v":17.5},{"d":"2025-05-02","s":"국고10년-국고5년","v":18.7},{"d":"2025-05-07","s":"국고10년-국고5년","v":20.5},{"d":"2025-05-09","s":"국고10년-국고5년","v":21.5},{"d":"2025-05-13","s":"국고10년-국고5년","v":23},{"d":"2025-05-16","s":"국고10년-국고5년","v":23.5},{"d":"2025-05-20","s":"국고10년-국고5년","v":24.8},{"d":"2025-05-23","s":"국고10년-국고5년","v":26},{"d":"2025-05-27","s":"국고10년-국고5년","v":23.5},{"d":"2025-05-30","s":"국고10년-국고5년","v":26.5},{"d":"2025-06-02","s":"국고10년-국고5년","v":27},{"d":"2025-06-05","s":"국고10년-국고5년","v":28.5},{"d":"2025-06-10","s":"국고10년-국고5년","v":27.5},{"d":"2025-06-13","s":"국고10년-국고5년","v":23.3},{"d":"2025-06-17","s":"국고10년-국고5년","v":25.5},{"d":"2025-06-20","s":"국고10년-국고5년","v":24},{"d":"2025-06-24","s":"국고10년-국고5년","v":21.5},{"d":"2025-06-27","s":"국고10년-국고5년","v":20},{"d":"2025-07-01","s":"국고10년-국고5년","v":21.5},{"d":"2025-07-04","s":"국고10년-국고5년","v":21.7},{"d":"2025-07-08","s":"국고10년-국고5년","v":21.5},{"d":"2025-07-11","s":"국고10년-국고5년","v":22.5},{"d":"2025-07-15","s":"국고10년-국고5년","v":23.5},{"d":"2025-07-18","s":"국고10년-국고5년","v":23.3},{"d":"2025-07-22","s":"국고10년-국고5년","v":22.5},{"d":"2025-07-25","s":"국고10년-국고5년","v":21.7},{"d":"2025-07-29","s":"국고10년-국고5년","v":21},{"d":"2025-08-01","s":"국고10년-국고5년","v":20.3},{"d":"2025-08-05","s":"국고10년-국고5년","v":21},{"d":"2025-08-08","s":"국고10년-국고5년","v":21.8},{"d":"2025-08-12","s":"국고10년-국고5년","v":22.5},{"d":"2025-08-14","s":"국고10년-국고5년","v":22.5},{"d":"2025-08-19","s":"국고10년-국고5년","v":24.3},{"d":"2025-08-22","s":"국고10년-국고5년","v":24.7},{"d":"2025-08-26","s":"국고10년-국고5년","v":25.8},{"d":"2025-08-29","s":"국고10년-국고5년","v":25},{"d":"2025-09-02","s":"국고10년-국고5년","v":25},{"d":"2025-09-05","s":"국고10년-국고5년","v":24},{"d":"2025-09-09","s":"국고10년-국고5년","v":26},{"d":"2025-09-12","s":"국고10년-국고5년","v":24},{"d":"2025-09-16","s":"국고10년-국고5년","v":23},{"d":"2025-09-19","s":"국고10년-국고5년","v":22.5},{"d":"2025-09-23","s":"국고10년-국고5년","v":21.5},{"d":"2025-09-26","s":"국고10년-국고5년","v":22},{"d":"2025-09-30","s":"국고10년-국고5년","v":22.8},{"d":"2025-10-02","s":"국고10년-국고5년","v":22.8},{"d":"2025-10-10","s":"국고10년-국고5년","v":22.5},{"d":"2025-10-14","s":"국고10년-국고5년","v":20.5},{"d":"2025-10-17","s":"국고10년-국고5년","v":20},{"d":"2025-10-21","s":"국고10년-국고5년","v":19},{"d":"2025-10-24","s":"국고10년-국고5년","v":19.5},{"d":"2025-10-28","s":"국고10년-국고5년","v":20.5},{"d":"2025-10-31","s":"국고10년-국고5년","v":20.5},{"d":"2025-11-04","s":"국고10년-국고5년","v":20.5},{"d":"2025-11-07","s":"국고10년-국고5년","v":19},{"d":"2025-11-11","s":"국고10년-국고5년","v":21},
{"d":"2025-04-01","s":"국고10년-국고3년","v":20.5},{"d":"2025-04-04","s":"국고10년-국고3년","v":21.5},{"d":"2025-04-08","s":"국고10년-국고3년","v":24.5},{"d":"2025-04-11","s":"국고10년-국고3년","v":28.5},{"d":"2025-04-15","s":"국고10년-국고3년","v":27.2},{"d":"2025-04-18","s":"국고10년-국고3년","v":25.8},{"d":"2025-04-22","s":"국고10년-국고3년","v":28.5},{"d":"2025-04-25","s":"국고10년-국고3년","v":27.5},{"d":"2025-04-29","s":"국고10년-국고3년","v":28.5},{"d":"2025-05-02","s":"국고10년-국고3년","v":30.5},{"d":"2025-05-07","s":"국고10년-국고3년","v":33},{"d":"2025-05-09","s":"국고10년-국고3년","v":35},{"d":"2025-05-13","s":"국고10년-국고3년","v":36.3},{"d":"2025-05-16","s":"국고10년-국고3년","v":37},{"d":"2025-05-20","s":"국고10년-국고3년","v":40},{"d":"2025-05-23","s":"국고10년-국고3년","v":43},{"d":"2025-05-27","s":"국고10년-국고3년","v":38.5},{"d":"2025-05-30","s":"국고10년-국고3년","v":43.5},{"d":"2025-06-02","s":"국고10년-국고3년","v":46},{"d":"2025-06-05","s":"국고10년-국고3년","v":48},{"d":"2025-06-10","s":"국고10년-국고3년","v":45.5},{"d":"2025-06-13","s":"국고10년-국고3년","v":37.5},{"d":"2025-06-17","s":"국고10년-국고3년","v":41.9},{"d":"2025-06-20","s":"국고10년-국고3년","v":39.5},{"d":"2025-06-24","s":"국고10년-국고3년","v":37},{"d":"2025-06-27","s":"국고10년-국고3년","v":33.3},{"d":"2025-07-01","s":"국고10년-국고3년","v":35.5},{"d":"2025-07-04","s":"국고10년-국고3년","v":36},{"d":"2025-07-08","s":"국고10년-국고3년","v":36.5},{"d":"2025-07-11","s":"국고10년-국고3년","v":38},{"d":"2025-07-15","s":"국고10년-국고3년","v":41.5},{"d":"2025-07-18","s":"국고10년-국고3년","v":39.5},{"d":"2025-07-22","s":"국고10년-국고3년","v":38},{"d":"2025-07-25","s":"국고10년-국고3년","v":37},{"d":"2025-07-29","s":"국고10년-국고3년","v":36.3},{"d":"2025-08-01","s":"국고10년-국고3년","v":35.2},{"d":"2025-08-05","s":"국고10년-국고3년","v":35.8},{"d":"2025-08-08","s":"국고10년-국고3년","v":36.3},{"d":"2025-08-12","s":"국고10년-국고3년","v":37},{"d":"2025-08-14","s":"국고10년-국고3년","v":39.3},{"d":"2025-08-19","s":"국고10년-국고3년","v":40.8},{"d":"2025-08-22","s":"국고10년-국고3년","v":41.5},{"d":"2025-08-26","s":"국고10년-국고3년","v":43},{"d":"2025-08-29","s":"국고10년-국고3년","v":40},{"d":"2025-09-02","s":"국고10년-국고3년","v":43},{"d":"2025-09-05","s":"국고10년-국고3년","v":40},{"d":"2025-09-09","s":"국고10년-국고3년","v":40},{"d":"2025-09-12","s":"국고10년-국고3년","v":39.5},{"d":"2025-09-16","s":"국고10년-국고3년","v":35.5},{"d":"2025-09-19","s":"국고10년-국고3년","v":37},{"d":"2025-09-23","s":"국고10년-국고3년","v":36.5},{"d":"2025-09-26","s":"국고10년-국고3년","v":37.5},{"d":"2025-09-30","s":"국고10년-국고3년","v":38},{"d":"2025-10-02","s":"국고10년-국고3년","v":38},{"d":"2025-10-10","s":"국고10년-국고3년","v":36.5},{"d":"2025-10-14","s":"국고10년-국고3년","v":33},{"d":"2025-10-17","s":"국고10년-국고3년","v":32},{"d":"2025-10-21","s":"국고10년-국고3년","v":30},{"d":"2025-10-24","s":"국고10년-국고3년","v":32},{"d":"2025-10-28","s":"국고10년-국고3년","v":31},{"d":"2025-10-31","s":"국고10년-국고3년","v":34.4},{"d":"2025-11-04","s":"국고10년-국고3년","v":36},{"d":"2025-11-07","s":"국고10년-국고3년","v":33.5},{"d":"2025-11-11","s":"국고10년-국고3년","v":37}
]
},
"hconcat":[
{
"width":373,"height":291,
"title":{"text":"주요 채권 금리","fontSize":15,"fontWeight":"bold","frame":"group","anchor":"middle","offset":-9.5},
"data":{"name":"rates"},
"mark":{"type":"line","strokeWidth":2.75,"clip":true},
"encoding":{
"x":{"field":"d","type":"temporal","scale":{"type":"utc","domain":[{"year":2025,"month":4,"date":1,"utc":true},{"year":2025,"month":11,"date":12,"utc":true}]},
"axis":{"title":null,"format":"%y/%m","grid":false,"tickSize":-4,"labelPadding":11,"labelFontSize":9.5,
"values":[{"year":2025,"month":4,"date":1,"utc":true},{"year":2025,"month":5,"date":1,"utc":true},{"year":2025,"month":6,"date":1,"utc":true},{"year":2025,"month":7,"date":1,"utc":true},{"year":2025,"month":8,"date":1,"utc":true},{"year":2025,"month":9,"date":1,"utc":true},{"year":2025,"month":10,"date":1,"utc":true},{"year":2025,"month":11,"date":1,"utc":true}]}},
"y":{"field":"v","type":"quantitative","scale":{"domain":[2.2,3.3],"nice":false,"zero":false},
"axis":{"title":"(%)","titleAngle":0,"titleAlign":"left","titleBaseline":"alphabetic","titleX":-26,"titleY":-10.5,"titleFontSize":9.5,"titleFontWeight":"normal","values":[2.2,2.3,2.4,2.5,2.6,2.7,2.8,2.9,3.0,3.1,3.2,3.3],"format":".2f","tickSize":0,"labelPadding":7,"labelFontSize":9.5}},
"color":{"field":"s","type":"nominal","scale":{"domain":["통안91일","통안1년","통안2년","국고3년","국고5년","국고10년","국고20년","국고30년","국고50년"],"range":["#4A7EBB","#BE4B48","#98B954","#7D60A0","#46AAC5","#F69546","#95B3D7","#D99694","#C3D69B"]},
"legend":{"orient":"none","legendX":7,"legendY":6,"title":null,"symbolType":"M-1,0H6.2","symbolSize":64,"symbolStrokeWidth":3.5,"labelFontSize":11.5,"labelOffset":18,"rowPadding":0,"clipHeight":11.6,"padding":0}}
}
},
{
"width":377,"height":292,
"title":{"text":"스프레드","fontSize":14.5,"fontWeight":"normal","frame":"group","anchor":"middle","offset":-7},
"data":{"name":"spreads"},
"mark":{"type":"line","strokeWidth":2.75,"clip":true},
"encoding":{
"x":{"field":"d","type":"temporal","scale":{"type":"utc","domain":[{"year":2025,"month":4,"date":1,"utc":true},{"year":2025,"month":11,"date":11,"utc":true}]},
"axis":{"title":null,"format":"%y/%m","grid":false,"tickSize":-4,"labelPadding":16,"labelFontSize":8.5,"offset":-67.4,
"values":[{"year":2025,"month":4,"date":1,"utc":true},{"year":2025,"month":5,"date":1,"utc":true},{"year":2025,"month":6,"date":1,"utc":true},{"year":2025,"month":7,"date":1,"utc":true},{"year":2025,"month":8,"date":1,"utc":true},{"year":2025,"month":9,"date":1,"utc":true},{"year":2025,"month":10,"date":1,"utc":true},{"year":2025,"month":11,"date":1,"utc":true}]}},
"y":{"field":"v","type":"quantitative","scale":{"domain":[-15,50],"nice":false,"zero":false},
"axis":{"title":"(bp)","titleAngle":0,"titleAlign":"left","titleBaseline":"alphabetic","titleX":-23,"titleY":-10.5,"titleFontSize":9,"titleFontWeight":"normal","values":[-15,-10,-5,0,5,10,15,20,25,30,35,40,45,50],"format":"d","tickSize":0,"labelPadding":12,"labelFontSize":8.5}},
"color":{"field":"s","type":"nominal","scale":{"domain":["국고3년-통안1년","국고5년-국고3년","국고10년-국고5년","국고10년-국고3년"],"range":["#4A7EBB","#BE4B48","#98B954","#7D60A0"]},
"legend":{"orient":"none","legendX":248,"legendY":238.5,"title":null,"symbolType":"M-1,0H5.75","symbolSize":64,"symbolStrokeWidth":3.5,"labelFontSize":11,"labelOffset":14,"rowPadding":-1.8,"padding":0}}
}
}
],
"spacing":27
}
